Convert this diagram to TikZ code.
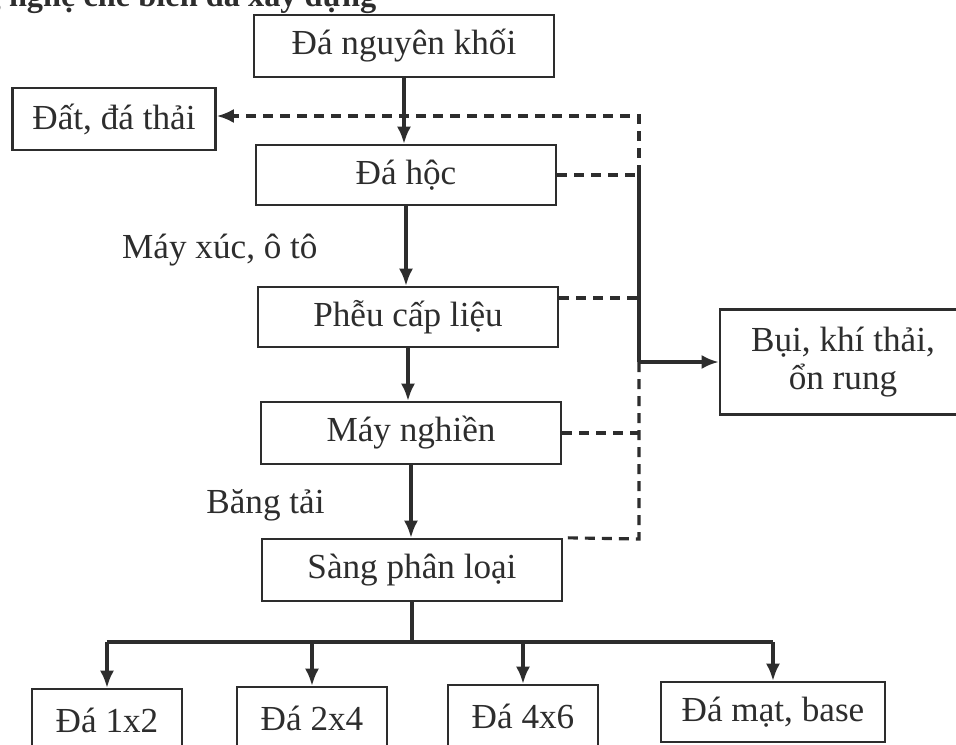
\documentclass[tikz,border=0pt]{standalone}
\usepackage{fontspec}
\setmainfont{Liberation Serif}
\usetikzlibrary{arrows.meta}
\definecolor{ink}{RGB}{45,45,45}

\tikzset{
  procbox/.style={draw=ink, line width=0.7pt, inner sep=0pt, minimum width=3cm, minimum height=0.62cm, text=ink},
  prodbox/.style={procbox, minimum width=1.5cm},
  flow/.style={draw=ink, line width=0.9pt},
  dashline/.style={draw=ink, line width=0.9pt, dash pattern=on 0.1cm off 0.07cm},
  >={Latex[length=1.7mm,width=1.4mm]}
}

\begin{document}
\begin{tikzpicture}[x=0.01cm,y=-0.01cm,font=\fontsize{10}{11}\selectfont]
\useasboundingbox (0,0) rectangle (956,745);
\clip (0,0) rectangle (956,745);
% cut-off heading
\node[anchor=base east,inner sep=0pt,text=ink,font=\fontsize{9.2}{11}\selectfont\bfseries] (title) at (377,6) {công nghệ chế biến đá xây dựng};
% main chain
\node[procbox] (nguyen) at (404,46) {Đá nguyên khối};
\node[procbox, minimum width=2.03cm] (dat) at (114,119) {Đất, đá thải};
\node[procbox, minimum height=0.6cm] (hoc) at (406,175) {Đá hộc};
\node[procbox, minimum height=0.6cm] (pheu) at (408,317) {Phễu cấp liệu};
\node[procbox] (nghien) at (411,433) {Máy nghiền};
\node[procbox] (sang) at (412,570) {Sàng phân loại};
\node[procbox, minimum width=2.46cm, minimum height=1.05cm, align=center] (bui) at (843,362) {Bụi, khí thải,\\ổn rung};
\node[anchor=east,text=ink] (xuc) at (330,250) {Máy xúc, ô tô};
\node[anchor=east,text=ink] (bang) at (337,505) {Băng tải};
% products
\node[prodbox] (d12) at (107,720) {Đá 1x2};
\node[prodbox] (d24) at (312,718) {Đá 2x4};
\node[prodbox] (d46) at (523,716) {Đá 4x6};
\node[prodbox, minimum width=2.24cm, minimum height=0.6cm] (dmat) at (773,712) {Đá mạt, base};
% waste collector
\coordinate (c1) at (639,116);
\coordinate (c2) at (639,175);
\coordinate (c3) at (639,362);
\coordinate (c4) at (639,539);
\coordinate (bus) at (412,642);

\draw[flow,->] (nguyen.south) -- (nguyen.south |- hoc.north);
\draw[flow,->] (hoc.south) -- (hoc.south |- pheu.north);
\draw[flow,->] (pheu.south) -- (pheu.south |- nghien.north);
\draw[flow,->] (nghien.south) -- (nghien.south |- sang.north);

\draw[dashline,->] (c2) -- (c1) -- (c1 -| dat.east);
\draw[dashline] (hoc.east) -- (c2);
\draw[dashline] ([yshift=0.19cm]pheu.east) -- ([yshift=0.19cm]pheu.east -| c2);
\draw[dashline] (nghien.east) -- (nghien.east -| c2);
\draw[flow] (c2) -- (c3);
\draw[flow,->] (c3) -- (c3 -| bui.west);
\draw[dashline] (c3) -- (c4) -- (sang.north east);

\draw[flow] (sang.south) -- (bus);
\draw[flow] (d12 |- bus) -- (dmat |- bus);
\foreach \b in {d12,d24,d46,dmat} {\draw[flow,->] (\b |- bus) -- (\b.north);}
\end{tikzpicture}
\end{document}
